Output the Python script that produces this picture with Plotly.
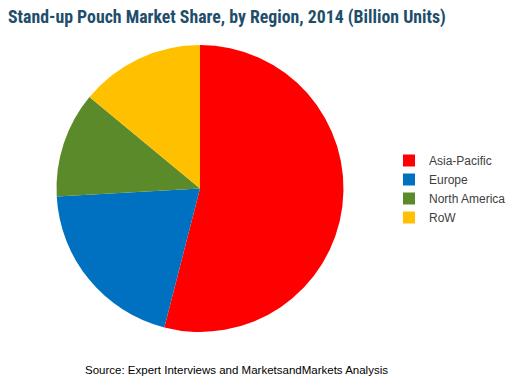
import plotly.graph_objects as go

regions = ["Asia-Pacific", "Europe", "North America", "RoW"]
shares = [54.0, 20.1, 11.9, 14.0]
colors = ["#FF0000", "#0070C0", "#5A8A2A", "#FFC000"]

W, H = 510, 386
cx, cy, r = 200, 188.5, 143.5

fig = go.Figure(go.Pie(
    labels=regions,
    values=shares,
    sort=False,
    direction="clockwise",
    rotation=0,
    textinfo="none",
    hoverinfo="label+percent",
    marker=dict(colors=colors, line=dict(width=0)),
    domain=dict(x=[(cx - r) / W, (cx + r) / W],
                y=[(H - cy - r) / H, (H - cy + r) / H]),
))

fig.update_layout(
    width=W, height=H,
    margin=dict(l=0, r=0, t=0, b=0, autoexpand=False),
    paper_bgcolor="white",
    plot_bgcolor="white",
    showlegend=True,
    legend=dict(
        x=389 / W, xanchor="left",
        y=(H - 189) / H, yanchor="middle",
        font=dict(family="Liberation Sans, Arial, sans-serif", size=12, color="#404040"),
        itemwidth=30,
        tracegroupgap=0,
        bgcolor="rgba(0,0,0,0)",
    ),
    annotations=[
        dict(text="<b>Stand-up Pouch Market Share, by Region, 2014 (Billion Units)</b>",
             x=6 / W, y=1 - 17 / H, xref="paper", yref="paper",
             xanchor="left", yanchor="middle", showarrow=False,
             font=dict(family="Liberation Sans Narrow, Roboto Condensed, Arial Narrow, sans-serif",
                       size=17.8, color="#1F4E6B")),
        dict(text="Source: Expert Interviews and MarketsandMarkets Analysis",
             x=236 / W, y=1 - 370 / H, xref="paper", yref="paper",
             xanchor="center", yanchor="middle", showarrow=False,
             font=dict(family="Liberation Sans, Arial, sans-serif", size=11.5, color="#000000")),
    ],
)

fig.write_html("out.html", config={"displayModeBar": False},
               post_script="document.body.style.margin='0';")
